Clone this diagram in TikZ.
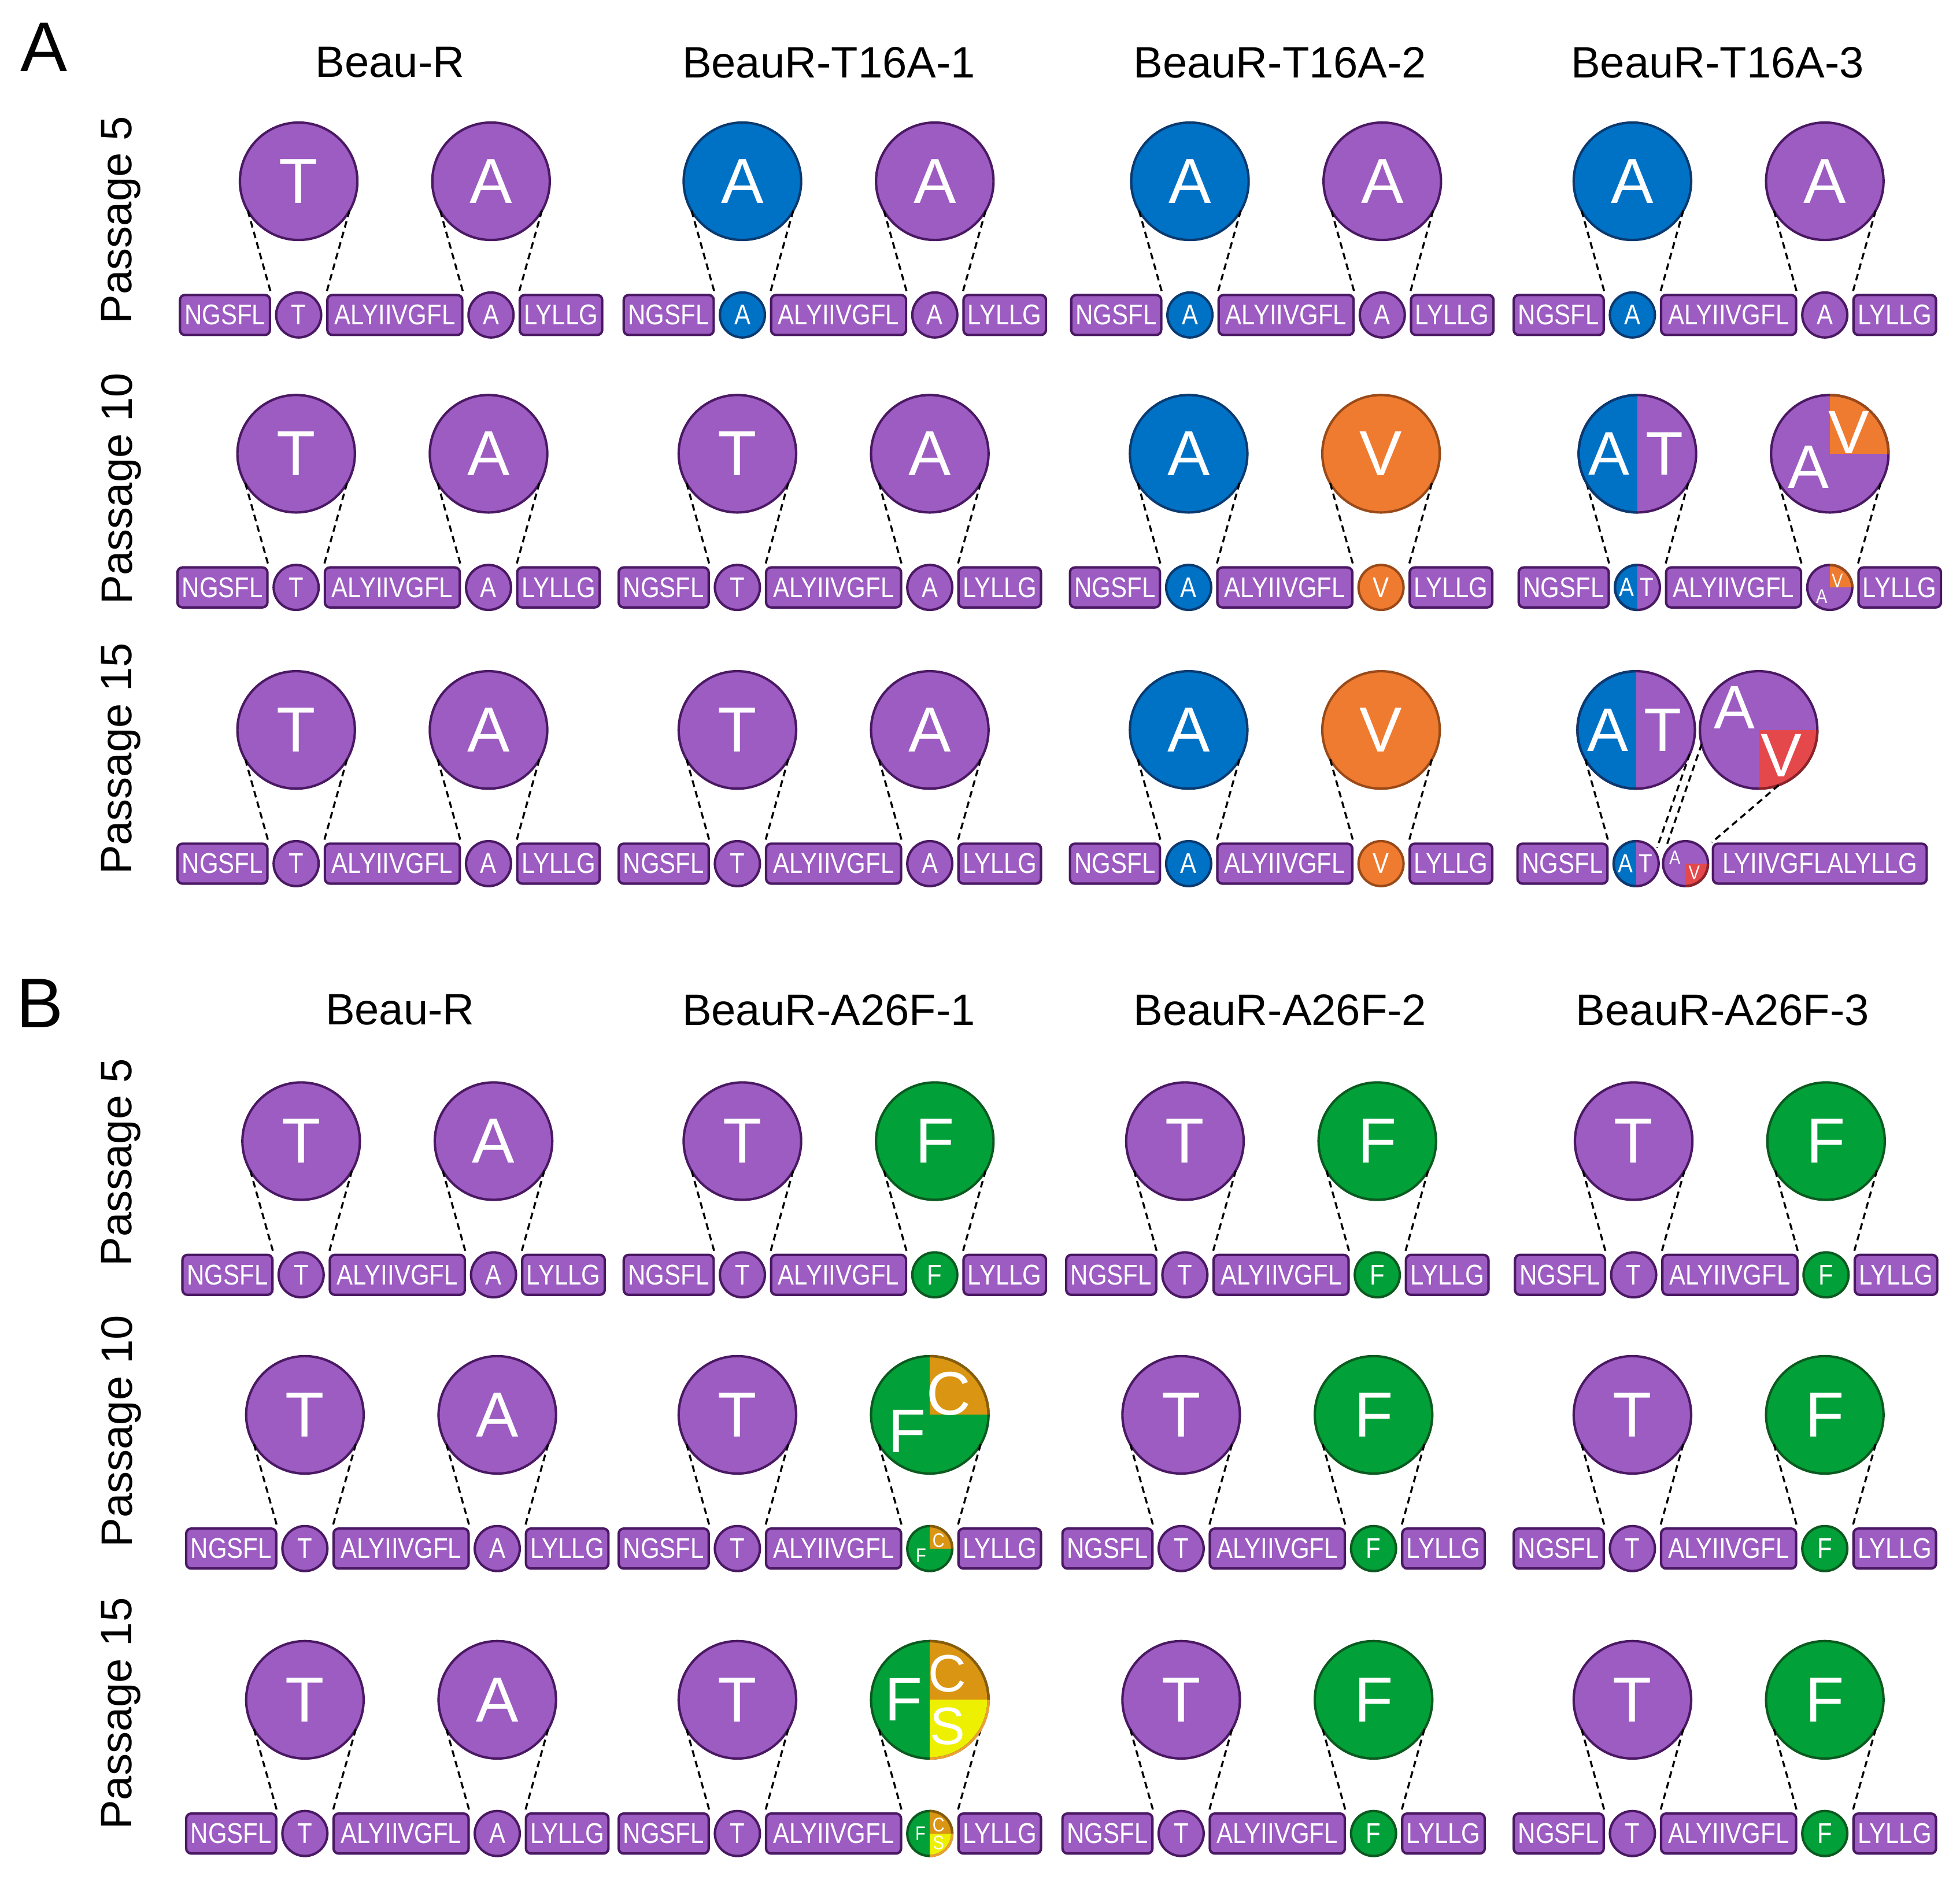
\documentclass[tikz,border=0pt]{standalone}
\usepackage{fontspec}
\setmainfont{Liberation Sans}
\newfontfamily\narrowsf[FakeStretch=0.85]{Liberation Sans}
\usepackage{xcolor}
\usepackage{tikz}
\usetikzlibrary{positioning}
\definecolor{purp}{HTML}{9C5CC1}
\definecolor{purpD}{HTML}{4B1964}
\definecolor{blu}{HTML}{0072C6}
\definecolor{bluD}{HTML}{0A3A70}
\definecolor{orng}{HTML}{EE7B30}
\definecolor{orngD}{HTML}{9A4A18}
\definecolor{grn}{HTML}{02A038}
\definecolor{grnD}{HTML}{0B5A20}
\definecolor{redv}{HTML}{E5484A}
\definecolor{redD}{HTML}{8E2326}
\definecolor{gold}{HTML}{DA9512}
\definecolor{goldD}{HTML}{8A5B0A}
\definecolor{yel}{HTML}{EDF000}
\definecolor{yelD}{HTML}{F0A030}
\tikzset{>=latex}
\tikzset{
  seq/.style = {rectangle, rounded corners=0.08cm, draw=purpD, fill=purp, line width=1.1pt, minimum height=0.64cm, inner sep=0pt, text=white, font=\narrowsf\fontsize{13}{13}\selectfont},
  res/.style = {circle, draw=purpD, fill=purp, line width=1.1pt, minimum size=0.72cm, inner sep=0pt, outer sep=0pt, text=white, font=\narrowsf\fontsize{13}{13}\selectfont},
  bigres/.style = {circle, draw=purpD, fill=purp, line width=1.1pt, minimum size=1.88cm, inner sep=0pt, outer sep=0pt, text=white, font=\fontsize{29}{29}\selectfont},
  isblue/.style = {fill=blu, draw=bluD},
  isorange/.style = {fill=orng, draw=orngD},
  isgreen/.style = {fill=grn, draw=grnD},
  splitAT/.style = {fill=purp, path picture={\fill[blu] (path picture bounding box.south west) rectangle (path picture bounding box.north);}},
  quadNE/.style = {path picture={\fill[#1] (path picture bounding box.center) rectangle (path picture bounding box.north east);}},
  quadSE/.style = {path picture={\fill[#1] (path picture bounding box.center) rectangle (path picture bounding box.south east);}},
  fcs/.style = {path picture={\fill[gold] (path picture bounding box.center) rectangle (path picture bounding box.north east);
                              \fill[yel] (path picture bounding box.center) rectangle (path picture bounding box.south east);}},
  bigl/.style = {text=white, inner sep=0pt, font=\fontsize{28}{28}\selectfont},
  midl/.style = {text=white, inner sep=0pt, font=\fontsize{24}{24}\selectfont},
  smalll/.style = {text=white, inner sep=0pt, font=\narrowsf\fontsize{12}{12}\selectfont},
  tinyl/.style = {text=white, inner sep=0pt, font=\narrowsf\fontsize{9}{9}\selectfont},
  link/.style = {draw=black, line width=0.9pt, dash pattern=on 3pt off 2pt},
  head/.style = {font=\fontsize{20}{20}\selectfont},
  rowlab/.style = {rotate=90, font=\fontsize{20}{20}\selectfont},
  panel/.style = {font=\fontsize{32}{32}\selectfont}
}
% one cell: name, x, y, residue 1, its style, residue 2, its style
\newcommand{\seqcell}[7]{%
  \node[seq, minimum width=1.44cm, anchor=west] (#1n) at (#2,#3) {NGSFL};
  \node[res, #5, right=0.08cm of #1n] (#1a) {#4};
  \node[seq, minimum width=2.16cm, right=0.08cm of #1a] (#1m) {ALYIIVGFL};
  \node[res, #7, right=0.08cm of #1m] (#1b) {#6};
  \node[seq, minimum width=1.32cm, right=0.08cm of #1b] (#1c) {LYLLG};
  \node[bigres, #5, above=0.84cm of #1a] (#1A) {#4};
  \node[bigres, #7, above=0.84cm of #1b] (#1B) {#6};
  \draw[link] (#1A.210) -- (#1n.north east);
  \draw[link] (#1A.330) -- (#1m.north west);
  \draw[link] (#1B.210) -- (#1m.north east);
  \draw[link] (#1B.330) -- (#1c.north west);
}
\begin{document}
\begin{tikzpicture}[x=0.02cm, y=0.02cm]
\useasboundingbox (0,0) rectangle (1568,-1507);
% panel A
\node[panel] (pA) at (35,-38) {A};
\node[head] (hA1) at (312,-50) {Beau-R};
\node[head] (hA2) at (663,-50) {BeauR-T16A-1};
\node[head] (hA3) at (1024,-50) {BeauR-T16A-2};
\node[head] (hA4) at (1374,-50) {BeauR-T16A-3};
\node[rowlab] (rA1) at (97,-176) {Passage 5};
\node[rowlab] (rA2) at (97,-391) {Passage 10};
\node[rowlab] (rA3) at (97,-607) {Passage 15};
\seqcell{a11}{143}{-252}{T}{}{A}{}
\seqcell{a12}{498}{-252}{A}{isblue}{A}{}
\seqcell{a13}{856}{-252}{A}{isblue}{A}{}
\seqcell{a14}{1210}{-252}{A}{isblue}{A}{}
\seqcell{a21}{141}{-470}{T}{}{A}{}
\seqcell{a22}{494}{-470}{T}{}{A}{}
\seqcell{a23}{855}{-470}{A}{isblue}{V}{isorange}
\seqcell{a24}{1214}{-470}{}{splitAT}{}{quadNE=orng}
\draw[bluD, line width=1.1pt] (a24A.north) arc[start angle=90, end angle=270, radius=0.94cm];
\draw[bluD, line width=1.1pt] (a24a.north) arc[start angle=90, end angle=270, radius=0.36cm];
\draw[orngD, line width=1.1pt] (a24B.north) arc[start angle=90, end angle=0, radius=0.94cm];
\draw[orngD, line width=1.1pt] (a24b.north) arc[start angle=90, end angle=0, radius=0.36cm];
\node[bigl] (a24Ax) at ([xshift=-0.45cm]a24A.center) {A};
\node[bigl] (a24Ay) at ([xshift=0.43cm]a24A.center) {T};
\node[bigl] (a24Bx) at ([xshift=-0.34cm, yshift=-0.21cm]a24B.center) {A};
\node[bigl] (a24By) at ([xshift=0.31cm, yshift=0.34cm]a24B.center) {V};
\node[smalll] (a24ax) at ([xshift=-0.17cm]a24a.center) {A};
\node[smalll] (a24ay) at ([xshift=0.15cm]a24a.center) {T};
\node[tinyl] (a24bx) at ([xshift=-0.13cm, yshift=-0.14cm]a24b.center) {A};
\node[tinyl] (a24by) at ([xshift=0.12cm, yshift=0.11cm]a24b.center) {V};
\seqcell{a31}{141}{-691}{T}{}{A}{}
\seqcell{a32}{494}{-691}{T}{}{A}{}
\seqcell{a33}{855}{-691}{A}{isblue}{V}{isorange}
% T16A-3, passage 15: residues side by side
\node[seq, minimum width=1.44cm, anchor=west] (a34n) at (1213,-691) {NGSFL};
\node[res, splitAT, right=0.08cm of a34n] (a34a) {};
\node[res, quadSE=redv, right=0.07cm of a34a] (a34b) {};
\node[seq, minimum width=3.42cm, right=0.06cm of a34b] (a34c) {LYIIVGFLALYLLG};
\node[bigres, splitAT, above=0.84cm of a34a] (a34A) {};
\node[bigres, quadSE=redv, right=0.08cm of a34A] (a34B) {};
\draw[bluD, line width=1.1pt] (a34A.north) arc[start angle=90, end angle=270, radius=0.94cm];
\draw[bluD, line width=1.1pt] (a34a.north) arc[start angle=90, end angle=270, radius=0.36cm];
\draw[redD, line width=1.1pt] (a34B.east) arc[start angle=0, end angle=-90, radius=0.94cm];
\draw[redD, line width=1.1pt] (a34b.east) arc[start angle=0, end angle=-90, radius=0.36cm];
\node[bigl] (a34Ax) at ([xshift=-0.45cm]a34A.center) {A};
\node[bigl] (a34Ay) at ([xshift=0.43cm]a34A.center) {T};
\node[bigl] (a34Bx) at ([xshift=-0.39cm, yshift=0.36cm]a34B.center) {A};
\node[bigl] (a34By) at ([xshift=0.36cm, yshift=-0.41cm]a34B.center) {V};
\node[smalll] (a34ax) at ([xshift=-0.17cm]a34a.center) {A};
\node[smalll] (a34ay) at ([xshift=0.15cm]a34a.center) {T};
\node[tinyl] (a34bx) at ([xshift=-0.17cm, yshift=0.09cm]a34b.center) {A};
\node[tinyl] (a34by) at ([xshift=0.14cm, yshift=-0.15cm]a34b.center) {V};
\coordinate (a34j) at ([xshift=0.08cm]a34a.north east);
\coordinate (a34k) at ([xshift=-0.06cm]a34b.north west);
\draw[link] (a34A.210) -- (a34n.north east);
\draw[link] (a34A.336) -- (a34j);
\draw[link] (a34B.194) -- (a34k);
\draw[link] (a34B.290) -- (a34c.north west);
% panel B
\node[panel] (pB) at (32,-803) {B};
\node[head] (hB1) at (320,-808) {Beau-R};
\node[head] (hB2) at (663,-808) {BeauR-A26F-1};
\node[head] (hB3) at (1024,-808) {BeauR-A26F-2};
\node[head] (hB4) at (1378,-808) {BeauR-A26F-3};
\node[rowlab] (rB1) at (97,-930) {Passage 5};
\node[rowlab] (rB2) at (97,-1145) {Passage 10};
\node[rowlab] (rB3) at (97,-1371) {Passage 15};
\seqcell{b11}{145}{-1020}{T}{}{A}{}
\seqcell{b12}{498}{-1020}{T}{}{F}{isgreen}
\seqcell{b13}{852}{-1020}{T}{}{F}{isgreen}
\seqcell{b14}{1211}{-1020}{T}{}{F}{isgreen}
\seqcell{b21}{148}{-1239}{T}{}{A}{}
\seqcell{b22}{494}{-1239}{T}{}{}{isgreen, quadNE=gold}
\draw[goldD, line width=1.1pt] (b22B.north) arc[start angle=90, end angle=0, radius=0.94cm];
\draw[goldD, line width=1.1pt] (b22b.north) arc[start angle=90, end angle=0, radius=0.36cm];
\node[bigl] (b22Bx) at ([xshift=-0.36cm, yshift=-0.26cm]b22B.center) {F};
\node[bigl] (b22By) at ([xshift=0.3cm, yshift=0.34cm]b22B.center) {C};
\node[tinyl] (b22bx) at ([xshift=-0.14cm, yshift=-0.11cm]b22b.center) {F};
\node[tinyl] (b22by) at ([xshift=0.14cm, yshift=0.13cm]b22b.center) {C};
\seqcell{b23}{849}{-1239}{T}{}{F}{isgreen}
\seqcell{b24}{1210}{-1239}{T}{}{F}{isgreen}
\seqcell{b31}{148}{-1467}{T}{}{A}{}
\seqcell{b32}{494}{-1467}{T}{}{}{isgreen, fcs}
\draw[goldD, line width=1.1pt] (b32B.north) arc[start angle=90, end angle=0, radius=0.94cm];
\draw[yelD, line width=1.1pt] (b32B.east) arc[start angle=0, end angle=-90, radius=0.94cm];
\draw[goldD, line width=1.1pt] (b32b.north) arc[start angle=90, end angle=0, radius=0.36cm];
\draw[yelD, line width=1.1pt] (b32b.east) arc[start angle=0, end angle=-90, radius=0.36cm];
\node[bigl] (b32Bx) at ([xshift=-0.42cm]b32B.center) {F};
\node[midl] (b32By) at ([xshift=0.28cm, yshift=0.42cm]b32B.center) {C};
\node[midl] (b32Bz) at ([xshift=0.28cm, yshift=-0.42cm]b32B.center) {S};
\node[tinyl] (b32bx) at ([xshift=-0.15cm]b32b.center) {F};
\node[tinyl] (b32by) at ([xshift=0.14cm, yshift=0.14cm]b32b.center) {C};
\node[tinyl] (b32bz) at ([xshift=0.14cm, yshift=-0.15cm]b32b.center) {S};
\seqcell{b33}{849}{-1467}{T}{}{F}{isgreen}
\seqcell{b34}{1210}{-1467}{T}{}{F}{isgreen}
\end{tikzpicture}
\end{document}
